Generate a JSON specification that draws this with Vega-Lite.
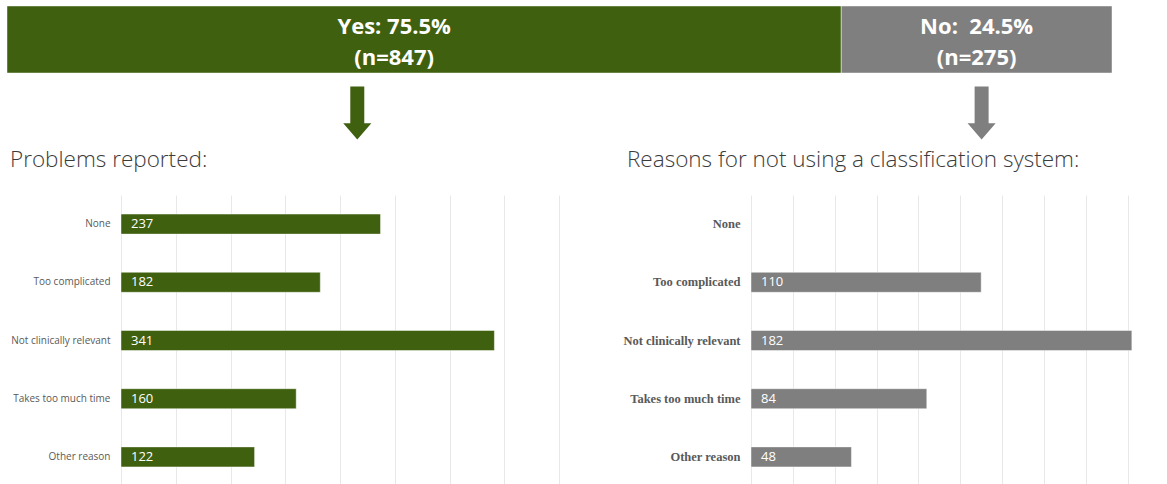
{
  "$schema": "https://vega.github.io/schema/vega-lite/v6.json",
  "padding": {"left": 6, "top": 5, "right": 0, "bottom": 0},
  "background": "white",
  "spacing": 8,
  "config": {"view": {"stroke": null}, "font": "Open Sans"},
  "datasets": {
    "overall": [
      {"question": "Uses a classification system", "answer": "Yes", "pct": 75.5, "n": 847, "label": "Yes: 75.5%\n(n=847)"},
      {"question": "Uses a classification system", "answer": "No", "pct": 24.5, "n": 275, "label": "No:\u00a0 24.5%\n(n=275)"}
    ],
    "arrows": [
      {"answer": "Yes", "at": 31.7},
      {"answer": "No", "at": 88.2}
    ],
    "problems": [
      {"reason": "None", "count": 237},
      {"reason": "Too complicated", "count": 182},
      {"reason": "Not clinically relevant", "count": 341},
      {"reason": "Takes too much time", "count": 160},
      {"reason": "Other reason", "count": 122}
    ],
    "reasons": [
      {"reason": "None", "count": null},
      {"reason": "Too complicated", "count": 110},
      {"reason": "Not clinically relevant", "count": 182},
      {"reason": "Takes too much time", "count": 84},
      {"reason": "Other reason", "count": 48}
    ]
  },
  "vconcat": [
    {
      "width": 991,
      "height": 67,
      "data": {"name": "overall"},
      "transform": [
        {"stack": "pct", "groupby": ["question"], "sort": [{"field": "answer", "order": "descending"}], "as": ["x0", "x1"]},
        {"calculate": "(datum.x0 + datum.x1) / 2", "as": "mid"}
      ],
      "encoding": {
        "y": {"field": "question", "type": "nominal", "axis": null, "scale": {"paddingInner": 0, "paddingOuter": 0}}
      },
      "layer": [
        {
          "mark": {"type": "bar", "stroke": "#ffffff", "strokeOpacity": 0.45, "strokeWidth": 1},
          "encoding": {
            "x": {"field": "x0", "type": "quantitative", "scale": {"domain": [0, 100], "range": [-114, 991], "nice": false}, "axis": null},
            "x2": {"field": "x1"},
            "color": {"field": "answer", "type": "nominal", "scale": {"domain": ["Yes", "No"], "range": ["#3f600f", "#7f7f7f"]}, "legend": null}
          }
        },
        {
          "transform": [{"filter": "datum.answer == 'Yes'"}],
          "mark": {"type": "text", "color": "white", "fontSize": 22, "fontWeight": "bold", "font": "Open Sans", "lineBreak": "\n", "lineHeight": 31, "baseline": "middle", "align": "center", "dx": -30, "dy": -12.5},
          "encoding": {
            "x": {"field": "mid", "type": "quantitative"},
            "text": {"field": "label"}
          }
        },
        {
          "transform": [{"filter": "datum.answer == 'No'"}],
          "mark": {"type": "text", "color": "white", "fontSize": 22, "fontWeight": "bold", "font": "Open Sans", "lineBreak": "\n", "lineHeight": 31, "baseline": "middle", "align": "center", "dy": -12.5},
          "encoding": {
            "x": {"field": "mid", "type": "quantitative"},
            "text": {"field": "label"}
          }
        }
      ]
    },
    {
      "width": 991,
      "height": 59,
      "data": {"name": "arrows"},
      "mark": {"type": "point", "filled": true, "opacity": 1, "shape": "M-0.264,-0.94L0.264,-0.94L0.264,0.44L0.53,0.44L0,1.06L-0.53,0.44L-0.264,0.44Z", "size": 2809},
      "encoding": {
        "x": {"field": "at", "type": "quantitative", "scale": {"domain": [0, 100], "range": [-114, 991], "nice": false}, "axis": null},
        "color": {"field": "answer", "type": "nominal", "scale": {"domain": ["Yes", "No"], "range": ["#3f600f", "#7f7f7f"]}, "legend": null}
      }
    },
    {
      "spacing": 62,
      "hconcat": [
        {
          "title": {"text": "Problems reported:", "anchor": "start", "frame": "bounds", "fontSize": 22.5, "fontWeight": 300, "color": "#3b3b3b", "font": "Open Sans", "offset": 23.5, "dx": 3},
          "width": 438,
          "height": 291,
          "data": {"name": "problems"},
          "encoding": {
            "y": {"field": "reason", "type": "nominal", "sort": null,
              "scale": {"domain": ["None", "Too complicated", "Not clinically relevant", "Takes too much time", "Other reason"], "paddingInner": 0.656, "paddingOuter": 0.328},
              "axis": {"title": null, "ticks": false, "domain": false, "labelPadding": 11, "labelFontSize": 10, "labelColor": "#595959", "labelFont": "Open Sans", "minExtent": 114, "maxExtent": 114}}
          },
          "layer": [
            {
              "mark": {"type": "bar", "color": "#3f600f", "stroke": "#ffffff", "strokeOpacity": 0.45, "strokeWidth": 1},
              "encoding": {
                "x": {"field": "count", "type": "quantitative", "scale": {"domain": [0, 400], "nice": false},
                  "axis": {"values": [0, 50, 100, 150, 200, 250, 300, 350, 400], "grid": true, "labels": false, "ticks": false, "domain": false, "title": null, "gridColor": "#e8e8e8"}}
              }
            },
            {
              "mark": {"type": "text", "align": "left", "baseline": "middle", "dx": 10, "color": "white", "fontSize": 13, "font": "Open Sans"},
              "encoding": {
                "x": {"datum": 0, "type": "quantitative"},
                "text": {"field": "count", "type": "quantitative"}
              }
            }
          ]
        },
        {
          "title": {"text": "Reasons for not using a classification system:", "anchor": "start", "frame": "bounds", "fontSize": 22.5, "fontWeight": 300, "color": "#3b3b3b", "font": "Open Sans", "offset": 23.5, "dx": 6},
          "width": 416,
          "height": 291,
          "data": {"name": "reasons"},
          "encoding": {
            "y": {"field": "reason", "type": "nominal", "sort": null,
              "scale": {"domain": ["None", "Too complicated", "Not clinically relevant", "Takes too much time", "Other reason"], "paddingInner": 0.656, "paddingOuter": 0.328},
              "axis": {"title": null, "ticks": false, "domain": false, "labelPadding": 11, "labelFontSize": 12.5, "labelFontWeight": "bold", "labelColor": "#595959", "labelFont": "Liberation Serif", "minExtent": 130, "maxExtent": 130}}
          },
          "layer": [
            {
              "mark": {"type": "bar", "color": "#7f7f7f", "stroke": "#ffffff", "strokeOpacity": 0.45, "strokeWidth": 1},
              "encoding": {
                "x": {"field": "count", "type": "quantitative", "scale": {"domain": [0, 198.8], "nice": false},
                  "axis": {"values": [0, 20, 40, 60, 80, 100, 120, 140, 160, 180], "grid": true, "labels": false, "ticks": false, "domain": false, "title": null, "gridColor": "#e8e8e8"}}
              }
            },
            {
              "transform": [{"filter": "isValid(datum.count)"}],
              "mark": {"type": "text", "align": "left", "baseline": "middle", "dx": 10, "color": "white", "fontSize": 13, "font": "Open Sans"},
              "encoding": {
                "x": {"datum": 0, "type": "quantitative"},
                "text": {"field": "count", "type": "quantitative"}
              }
            }
          ]
        }
      ]
    }
  ]
}
